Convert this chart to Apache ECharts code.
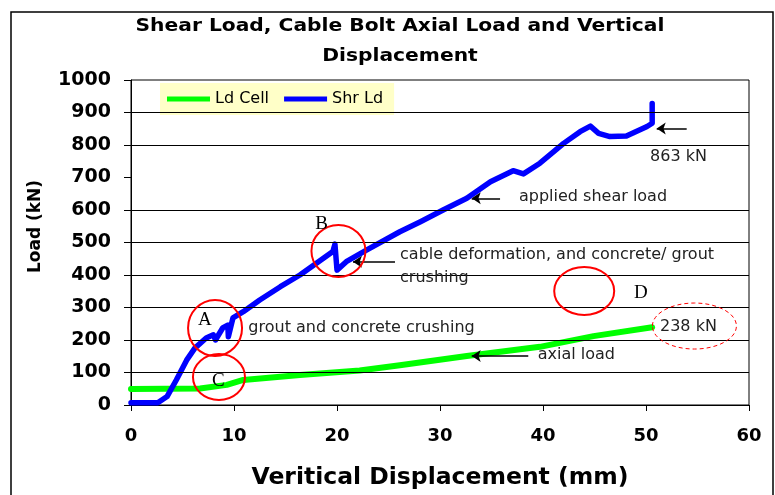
<!DOCTYPE html>
<html lang="en">
<head>
<meta charset="UTF-8">
<title>shear load chart</title>
<style>
  html, body { margin: 0; padding: 0; background: #fff; }
  #main { width: 775px; height: 495px; }
</style>
</head>
<body>
<div id="main"></div>
<script src="https://cdn.jsdelivr.net/npm/echarts@6/dist/echarts.min.js"></script>
<script>
// vertical displacement (mm) vs load (kN)
var shrDisp = [0, 2.6, 3.5, 4.4, 5.4, 6.2, 7.3, 8.0, 8.2, 8.9, 9.4, 9.45, 9.9, 10.9, 12.5, 14.5, 16.4, 18.0, 19.6, 19.8, 20.0, 20.9, 22.9, 26.1, 28.1, 30.3, 32.6, 34.9, 37.1, 38.1, 39.7, 42.0, 43.6, 44.6, 45.4, 46.5, 48.1, 50.1, 50.6, 50.6]
var shrLoad = [7, 7, 26, 77, 138, 175, 206, 216, 200, 237, 246, 210, 268, 287, 323, 364, 400, 436, 472, 495, 415, 441, 477, 533, 564, 600, 636, 687, 721, 711, 744, 805, 841, 858, 836, 826, 828, 857, 867, 928]
var cellDisp = [0, 6.7, 9.3, 10.9, 16.4, 22.2, 26.1, 32.6, 39.7, 44.9, 50.6]
var cellLoad = [49, 51, 62, 77, 92, 106, 122, 151, 179, 212, 239]
var seriesNames = ['Ld Cell', 'Shr Ld']
// horizontal gridlines that show in the original (700 is missing there)
var gridLoads = [100, 200, 300, 400, 500, 600, 800, 900]
var titleLines = ['Shear Load, Cable Bolt Axial Load and Vertical', 'Displacement']

// notes drawn on top of the plot, placed in data units
var notes = [
  { text: 'grout and concrete crushing', at: [11.39, 236] },
  { text: 'cable deformation, and concrete/ grout', at: [26.12, 462] },
  { text: 'crushing', at: [26.12, 390] },
  { text: 'applied shear load', at: [37.67, 641] },
  { text: '863 kN', at: [50.39, 764] },
  { text: 'axial load', at: [39.49, 154] },
  { text: '238 kN', at: [51.36, 239] }
]
var letters = [
  { text: 'A', at: [7.18, 262] },
  { text: 'B', at: [18.5, 557] },
  { text: 'C', at: [8.48, 75] },
  { text: 'D', at: [49.5, 344] }
]
var rings = [
  { at: [8.16, 237], rx: 27, ry: 28 },
  { at: [8.54, 86], rx: 26, ry: 23 },
  { at: [20.14, 474], rx: 27, ry: 26 },
  { at: [44.0, 351], rx: 30, ry: 24 },
  { at: [54.7, 243], rx: 42, ry: 23, dashed: true }
]
var arrows = [
  [[25.63, 441], [21.55, 441]],
  [[35.83, 636], [33.08, 636]],
  [[53.95, 851], [51.04, 851]],
  [[38.57, 151], [33.08, 151]]
]

var pairs = function (xs, ys) {
  return xs.map(function (x, i) { return [x, ys[i]] })
}

var chart = echarts.init(document.getElementById('main'))
var option = {
  animation: false,
  backgroundColor: '#fff',
  legend: {
    data: seriesNames,
    left: 160,
    top: 83,
    padding: [8, 11, 8, 7],
    backgroundColor: '#ffffc8',
    icon: 'rect',
    itemWidth: 43,
    itemHeight: 5,
    itemGap: 15,
    textStyle: { fontFamily: 'DejaVu Sans', fontSize: 16, color: '#000' }
  },
  grid: {
    left: 131,
    right: 26,
    top: 80,
    bottom: 90,
    show: true,
    borderColor: '#000',
    borderWidth: 1
  },
  xAxis: {
    type: 'value',
    min: 0,
    max: 60,
    interval: 10,
    name: 'Veritical Displacement (mm)',
    nameLocation: 'middle',
    nameGap: 61,
    nameTextStyle: { fontFamily: 'DejaVu Sans', fontWeight: 'bold', fontSize: 23.5, color: '#000' },
    axisLine: { lineStyle: { color: '#000', width: 1 } },
    axisTick: { show: true, inside: false, length: 6, lineStyle: { color: '#000' } },
    axisLabel: { margin: 22, fontFamily: 'DejaVu Sans', fontWeight: 'bold', fontSize: 18, color: '#000' },
    splitLine: { show: false }
  },
  yAxis: {
    type: 'value',
    min: 0,
    max: 1000,
    interval: 100,
    name: 'Load (kN)',
    nameLocation: 'middle',
    nameRotate: 90,
    nameGap: 87,
    nameTextStyle: { fontFamily: 'DejaVu Sans', fontWeight: 'bold', fontSize: 17, color: '#000', padding: [0, 0, 0, 32] },
    axisLine: { show: true, lineStyle: { color: '#000', width: 1 } },
    axisTick: { show: true, inside: false, length: 7, lineStyle: { color: '#000' } },
    axisLabel: {
      margin: 20,
      fontFamily: 'DejaVu Sans',
      fontWeight: 'bold',
      fontSize: 19,
      color: '#000',
      formatter: function (v) { return String(v) }
    },
    splitLine: { show: false }
  },
  series: [
    {
      // carries the gridlines only, drawn under the data
      name: 'grid',
      type: 'line',
      data: [],
      z: 1,
      markLine: {
        silent: true,
        symbol: ['none', 'none'],
        label: { show: false },
        lineStyle: { color: '#000', width: 1, type: 'solid' },
        data: gridLoads.map(function (v) { return { yAxis: v } })
      }
    },
    {
      name: seriesNames[0],
      type: 'line',
      data: pairs(cellDisp, cellLoad),
      showSymbol: false,
      symbol: 'none',
      z: 3,
      lineStyle: { color: '#00ff00', width: 6, cap: 'round', join: 'round' },
      itemStyle: { color: '#00ff00' }
    },
    {
      name: seriesNames[1],
      type: 'line',
      data: pairs(shrDisp, shrLoad),
      showSymbol: false,
      symbol: 'none',
      z: 4,
      lineStyle: { color: '#0000ff', width: 5.5, cap: 'round', join: 'round' },
      itemStyle: { color: '#0000ff' },
      markLine: {
        silent: true,
        symbol: ['none', 'arrow'],
        symbolSize: 9,
        label: { show: false },
        lineStyle: { color: '#000', width: 1.5, type: 'solid' },
        data: arrows.map(function (a) {
          return [{ coord: a[0] }, { coord: a[1] }]
        })
      }
    }
  ]
}
chart.setOption(option)

var toPx = function (pt) {
  return chart.convertToPixel({ gridIndex: 0 }, pt)
}
var graphics = [
  {
    type: 'rect',
    shape: { x: 11, y: 12, width: 762, height: 500 },
    style: { fill: 'none', stroke: '#000', lineWidth: 1.5 },
    silent: true
  }
]
// title text is drawn a little stretched, like the original
titleLines.forEach(function (t, i) {
  graphics.push({
    type: 'text',
    x: 400,
    y: 27 + i * 30,
    scaleX: 1.19,
    style: { text: t, fontFamily: 'DejaVu Sans', fontWeight: 'bold', fontSize: 17, fill: '#000', align: 'center', verticalAlign: 'middle' }
  })
})
rings.forEach(function (r) {
  var p = toPx(r.at)
  graphics.push({
    type: 'ellipse',
    shape: { cx: p[0], cy: p[1], rx: r.rx, ry: r.ry },
    style: { fill: 'none', stroke: '#ff0000', lineWidth: r.dashed ? 1 : 2, lineDash: r.dashed ? [4, 3] : null },
    z: 10
  })
})
notes.forEach(function (n) {
  var p = toPx(n.at)
  graphics.push({
    type: 'text',
    x: p[0],
    y: p[1],
    style: { text: n.text, fontFamily: 'DejaVu Sans', fontSize: 16, fill: '#222', verticalAlign: 'middle' },
    z: 10
  })
})
letters.forEach(function (n) {
  var p = toPx(n.at)
  graphics.push({
    type: 'text',
    x: p[0],
    y: p[1],
    style: { text: n.text, fontFamily: 'Liberation Serif', fontSize: 19, fill: '#000', align: 'center', verticalAlign: 'middle' },
    z: 10
  })
})
chart.setOption({ graphic: graphics })
</script>
</body>
</html>
